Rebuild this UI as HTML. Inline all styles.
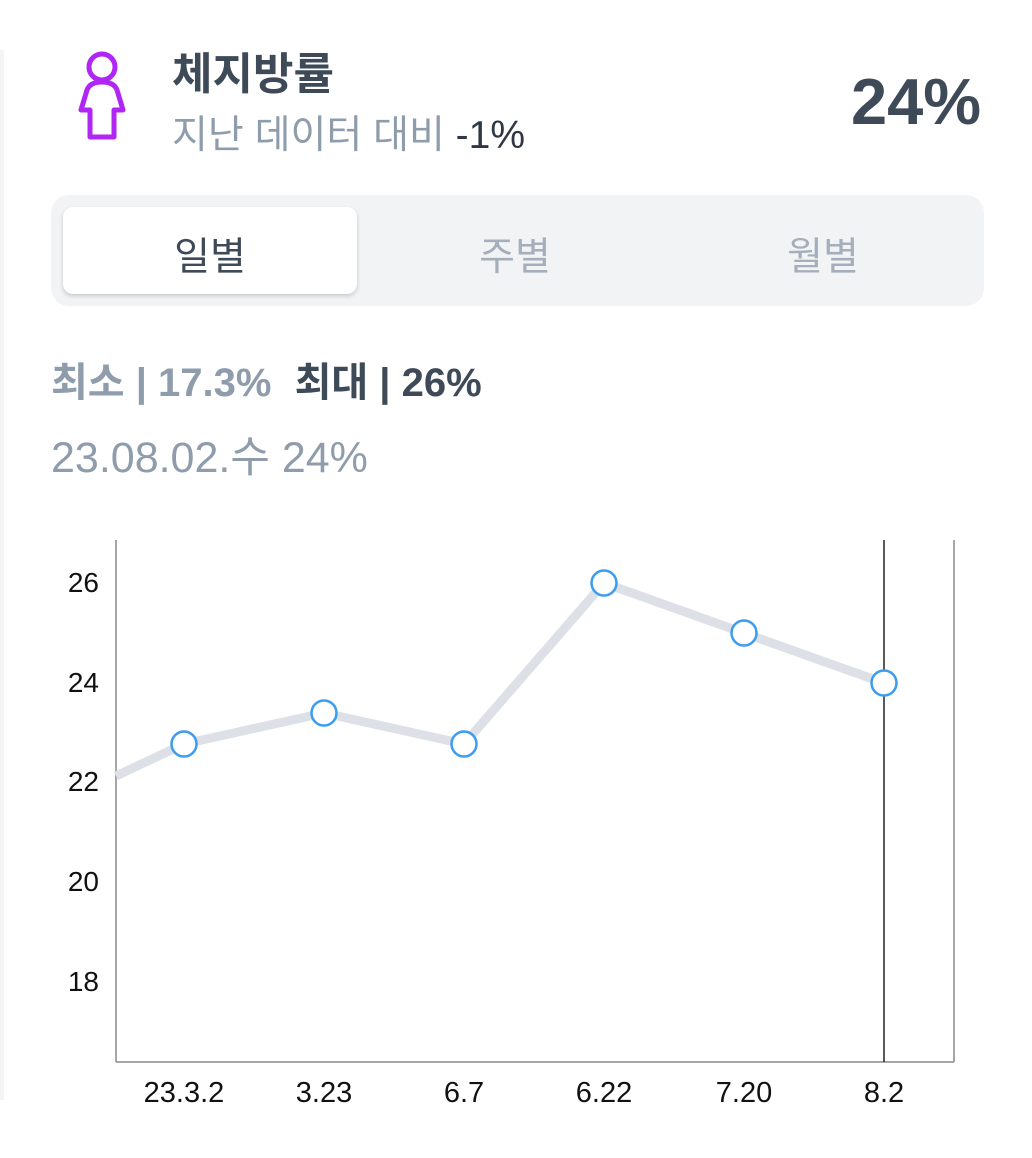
<!DOCTYPE html><html><head><meta charset="utf-8"><style>
body{margin:0;width:1032px;height:1158px;background:#fff;font-family:"Liberation Sans","Noto Sans CJK KR",sans-serif;position:relative;overflow:hidden}
.a{position:absolute;white-space:nowrap}
</style></head><body>
<div class="a" style="left:0;top:50px;width:4px;height:1050px;background:#f3f4f6"></div>
<svg class="a" style="left:74px;top:48px" width="56" height="96" viewBox="0 0 56 96"><circle cx="28" cy="19" r="13" fill="none" stroke="#b026f5" stroke-width="5"/><path d="M13 42 Q16 34 28 34 Q40 34 43 42 L49 62 L40 62 L40 89 L16 89 L16 62 L7 62 Z" fill="none" stroke="#b026f5" stroke-width="5" stroke-linejoin="round"/></svg>
<div class="a" style="left:172px;top:38px;font-size:44px;font-weight:bold;color:#3e4a57">체지방률</div>
<div class="a" style="left:172px;top:104px;font-size:39px;color:#8f9cab">지난 데이터 대비 <span style="color:#2f3842">-1%</span></div>
<div class="a" style="left:851px;top:64px;font-size:65px;font-weight:bold;color:#3e4a57">24%</div>
<div class="a" style="left:51px;top:195px;width:933px;height:111px;border-radius:18px;background:#f2f3f5"></div>
<div class="a" style="left:63px;top:207px;width:294px;height:87px;border-radius:10px;background:#fff;box-shadow:0 2px 4px rgba(0,0,0,.18)"></div>
<div class="a" style="left:63px;top:226px;width:294px;text-align:center;font-size:39px;color:#3e4a57">일별</div>
<div class="a" style="left:362px;top:226px;width:306px;text-align:center;font-size:39px;color:#a5afbb">주별</div>
<div class="a" style="left:670px;top:226px;width:306px;text-align:center;font-size:39px;color:#a5afbb">월별</div>
<div class="a" style="left:51px;top:350px;font-size:40px;font-weight:bold;color:#8f9cab">최소 | 17.3% <span style="color:#3e4a57;margin-left:12px">최대 | 26%</span></div>
<div class="a" style="left:51px;top:423px;font-size:43px;color:#8f9cab">23.08.02.수 24%</div>
<svg class="a" style="left:0;top:0" width="1032" height="1158">
<g stroke="#8a8a8a" stroke-width="1.5"><line x1="116" y1="540" x2="116" y2="1062"/><line x1="954" y1="540" x2="954" y2="1062"/><line x1="116" y1="1062" x2="954" y2="1062"/></g>
<line x1="884" y1="540" x2="884" y2="1062" stroke="#222" stroke-width="1.5"/>
<polyline points="116,776 184,744 324,713 464,744 604,583 744,633 884,683" fill="none" stroke="#dde1e7" stroke-width="9" stroke-linejoin="round"/>
<g fill="#fff" stroke="#3b9cf0" stroke-width="2.5"><circle cx="184" cy="744" r="12.5"/><circle cx="324" cy="713" r="12.5"/><circle cx="464" cy="744" r="12.5"/><circle cx="604" cy="583" r="12.5"/><circle cx="744" cy="633" r="12.5"/><circle cx="884" cy="683" r="12.5"/></g>
<g font-family="Liberation Sans,sans-serif" font-size="28" fill="#111" text-anchor="end"><text x="99" y="592">26</text><text x="99" y="692">24</text><text x="99" y="791">22</text><text x="99" y="891">20</text><text x="99" y="991">18</text></g>
<g font-family="Liberation Sans,sans-serif" font-size="29" fill="#111" text-anchor="middle"><text x="184" y="1102">23.3.2</text><text x="324" y="1102">3.23</text><text x="464" y="1102">6.7</text><text x="604" y="1102">6.22</text><text x="744" y="1102">7.20</text><text x="884" y="1102">8.2</text></g>
</svg>
</body></html>
